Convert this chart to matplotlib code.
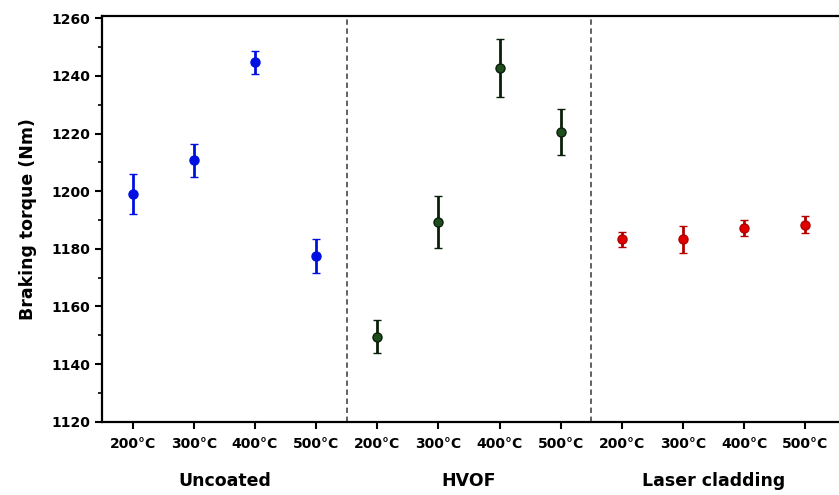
import matplotlib
matplotlib.use("Agg")
import matplotlib.pyplot as plt
from matplotlib.ticker import MultipleLocator

# braking torque per coating and temperature
temps = ["200°C", "300°C", "400°C", "500°C"]
groups = ["Uncoated", "HVOF", "Laser cladding"]

uncoated = [1199.0, 1210.8, 1244.8, 1177.5]
uncoated_err = [7.0, 5.7, 4.0, 5.8]
hvof = [1149.5, 1189.2, 1242.7, 1220.4]
hvof_err = [5.8, 9.0, 10.0, 8.0]
laser = [1183.3, 1183.3, 1187.3, 1188.4]
laser_err = [2.5, 4.7, 2.8, 2.9]

plt.rcParams['font.family'] = ['DejaVu Sans']
plt.rcParams['font.weight'] = 'bold'

fig = plt.figure(figsize=(8.39, 4.95), dpi=100)
ax = fig.add_axes([0.1216, 0.148, 0.8784, 0.8197])

series = [
    (uncoated, uncoated_err, "#0010e0", "#0010e0"),
    (hvof, hvof_err, "#1e4d1e", "#0a1f0a"),
    (laser, laser_err, "#e00000", "#b00000"),
]
for i, (vals, errs, col, edge) in enumerate(series):
    xs = [i * 4 + j for j in range(len(vals))]
    ax.errorbar(xs, vals, yerr=errs, fmt="o", color=col, ecolor=edge,
                markeredgecolor=edge, markeredgewidth=1.0, markersize=6.5,
                elinewidth=2, capsize=3, capthick=2, zorder=3)

for xv in (3.5, 7.5):
    ax.axvline(xv, color="#555555", linestyle=(0, (3, 2)), linewidth=1.3, zorder=1)

ax.set_xlim(-0.5, 11.55)
ax.set_ylim(1120, 1260.8)
ax.set_xticks(range(12))
ax.set_xticklabels(temps * 3, fontsize=10, fontweight='bold')
ax.yaxis.set_major_locator(MultipleLocator(20))
ax.yaxis.set_minor_locator(MultipleLocator(10))
ax.tick_params(axis='y', labelsize=10, width=1.5, length=5)
ax.tick_params(axis='y', which='minor', width=1.2, length=3)
ax.tick_params(axis='x', width=1.5, length=5, pad=6)
for lab in ax.get_yticklabels():
    lab.set_fontweight('bold')

for s in ("left", "bottom", "top"):
    ax.spines[s].set_linewidth(1.6)
ax.spines["right"].set_visible(False)

ax.set_ylabel("Braking torque (Nm)", fontsize=12.5, fontweight='bold', labelpad=10)

for i, g in enumerate(groups):
    ax.text(i * 4 + 1.5, -0.145, g, transform=ax.get_xaxis_transform(),
            ha="center", va="center", fontsize=12.5, fontweight='bold')

fig.savefig("out.png", dpi=100)
